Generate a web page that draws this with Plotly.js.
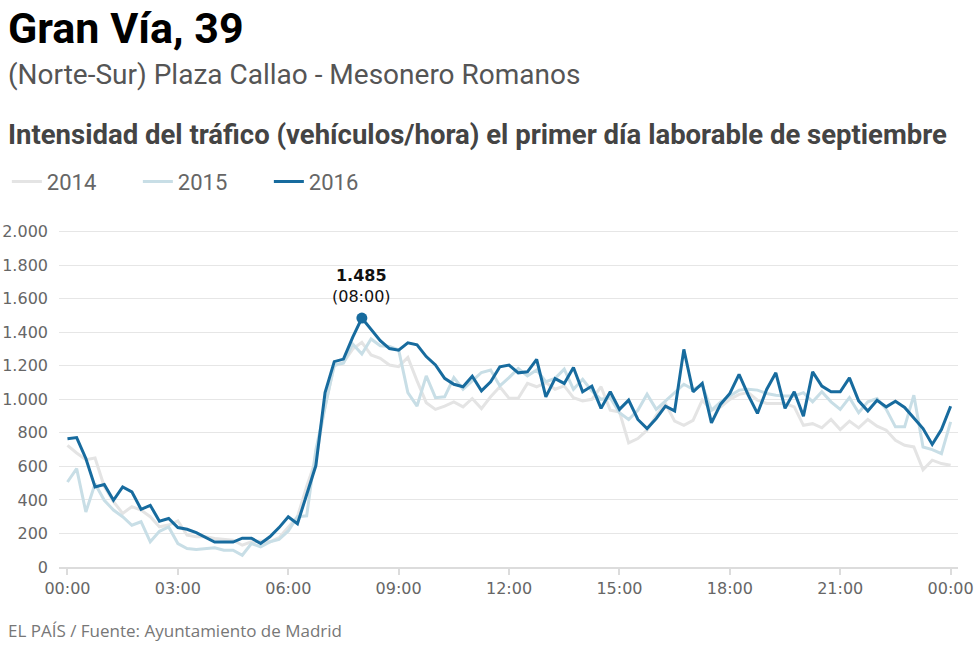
<!DOCTYPE html>
<html>
<head>
<meta charset="utf-8">
<script src="https://cdn.plot.ly/plotly-3.0.1.min.js"></script>
<style>
  html, body { margin: 0; padding: 0; background: #fff; }
  #chart { width: 980px; height: 647px; }
</style>
</head>
<body>
<div id="chart"></div>
<script>
// intensidad (vehículos/hora) cada 15 minutos, de 00:00 a 00:00
const v2014 = [726, 680, 640, 650, 480, 390, 320, 360, 340, 300, 240, 250, 275, 190, 180, 180,
  170, 165, 160, 130, 150, 155, 150, 175, 235, 300, 480, 640, 960, 1200, 1220, 1300,
  1340, 1265, 1245, 1205, 1195, 1250, 1110, 980, 940, 960, 985, 955, 1005, 945, 1015, 1075,
  1006, 1006, 1095, 1075, 1100, 1060, 1080, 1010, 990, 1000, 1075, 935, 925, 740, 766, 816,
  905, 975, 870, 845, 875, 995, 935, 955, 1000, 1030, 1040, 995, 975, 975, 975, 955,
  845, 855, 830, 880, 820, 870, 830, 880, 840, 816, 756, 726, 716, 580, 637, 617, 607];

const v2015 = [507, 587, 328, 497, 398, 340, 300, 249, 270, 150, 213, 239, 140, 110, 105, 110,
  115, 100, 100, 70, 140, 120, 150, 165, 215, 300, 305, 700, 950, 1205, 1216, 1330,
  1270, 1360, 1320, 1315, 1295, 1040, 960, 1140, 1010, 1015, 1130, 1060, 1110, 1160, 1175, 1080,
  1130, 1184, 1140, 1175, 1105, 1125, 1180, 1060, 1120, 1050, 1000, 1010, 920, 880, 935, 1030,
  940, 990, 1045, 1090, 1060, 1085, 935, 985, 1020, 1055, 1060, 1055, 1035, 1025, 1020, 1020,
  1040, 985, 1045, 985, 940, 1010, 920, 985, 1005, 940, 836, 836, 1025, 716, 700, 676, 866];

const v2016 = [765, 772, 647, 478, 492, 398, 478, 448, 344, 368, 273, 289, 235, 225, 205, 178,
  149, 149, 149, 172, 172, 140, 180, 235, 300, 258, 435, 605, 1040, 1225, 1240, 1370,
  1485, 1420, 1350, 1303, 1293, 1337, 1325, 1255, 1205, 1125, 1090, 1075, 1138, 1051, 1105, 1194,
  1204, 1158, 1164, 1238, 1015, 1124, 1095, 1190, 1045, 1079, 946, 1045, 940, 995, 880, 826,
  886, 959, 931, 1298, 1045, 1095, 860, 971, 1035, 1149, 1025, 916, 1059, 1158, 946, 1045,
  900, 1164, 1079, 1045, 1045, 1128, 991, 930, 995, 955, 989, 952, 886, 826, 731, 820, 959];

const horas = v2016.map((_, i) => i / 4);
const tickHoras = [0, 3, 6, 9, 12, 15, 18, 21, 24];
const tickTextos = ['00:00', '03:00', '06:00', '09:00', '12:00', '15:00', '18:00', '21:00', '00:00'];

const colores = { '2014': '#e4e4e4', '2015': '#c8dee6', '2016': '#176b9e' };

function serie(name, ys) {
    return {
        x: horas,
        y: ys,
        name: name,
        type: 'scatter',
        mode: 'lines',
        line: { color: colores[name], width: 3 },
        hoverinfo: 'skip'
    };
}

// pico de 2016
const maxVal = Math.max(...v2016);
const maxIdx = v2016.indexOf(maxVal);
const hh = String(Math.floor(horas[maxIdx])).padStart(2, '0');
const mm = String(Math.round((horas[maxIdx] % 1) * 60)).padStart(2, '0');
const maxTxt = String(maxVal).replace(/\B(?=(\d{3})+(?!\d))/g, '.');

const pico = {
    x: [horas[maxIdx]],
    y: [maxVal],
    type: 'scatter',
    mode: 'markers',
    marker: { color: colores['2016'], size: 11 },
    showlegend: false,
    hoverinfo: 'skip'
};

const fuente = 'Roboto, "Noto Sans", sans-serif';
const fuenteNum = '"DejaVu Sans", sans-serif';

const layout = {
    width: 980,
    height: 647,
    margin: { l: 59, r: 22, t: 230, b: 80 },
    paper_bgcolor: '#fff',
    plot_bgcolor: '#fff',
    separators: ',.',
    font: { family: fuente, color: '#555' },
    showlegend: true,
    legend: {
        orientation: 'h',
        xref: 'container', yref: 'container',
        x: 0.007, y: 0.719,
        xanchor: 'left', yanchor: 'middle',
        font: { size: 22, color: '#666', family: fuente },
        entrywidth: 86,
        entrywidthmode: 'pixels',
        traceorder: 'normal'
    },
    xaxis: {
        range: [-0.23, 24.2],
        tickvals: tickHoras,
        ticktext: tickTextos,
        showgrid: false,
        zeroline: false,
        showline: true,
        linecolor: '#dcdcdc',
        linewidth: 2,
        ticks: 'outside',
        ticklen: 6,
        tickwidth: 2,
        tickcolor: '#dcdcdc',
        tickfont: { size: 16, color: '#666', family: fuenteNum },
        fixedrange: true
    },
    yaxis: {
        range: [0, 2010],
        dtick: 200,
        tickformat: ',d',
        showgrid: true,
        gridcolor: '#e6e6e6',
        gridwidth: 1,
        zeroline: false,
        ticks: '',
        ticklabelstandoff: 10,
        tickfont: { size: 16, color: '#666', family: fuenteNum },
        fixedrange: true
    },
    annotations: [
        {
            xref: 'paper', yref: 'paper', x: -0.059, y: 1.6, xanchor: 'left', yanchor: 'middle',
            text: '<b>Gran Vía, 39</b>', showarrow: false,
            font: { family: fuente, size: 43, color: '#000' }
        },
        {
            xref: 'paper', yref: 'paper', x: -0.059, y: 1.462, xanchor: 'left', yanchor: 'middle',
            text: '(Norte-Sur) Plaza Callao - Mesonero Romanos', showarrow: false,
            font: { family: fuente, size: 28, color: '#555' }
        },
        {
            xref: 'paper', yref: 'paper', x: -0.059, y: 1.282, xanchor: 'left', yanchor: 'middle',
            text: '<b>Intensidad del tráfico (vehículos/hora) el primer día laborable de septiembre</b>',
            showarrow: false,
            font: { family: fuente, size: 27.5, color: '#444' }
        },
        {
            xref: 'x', yref: 'y', x: horas[maxIdx], y: maxVal, xanchor: 'center', yanchor: 'bottom',
            yshift: 10, showarrow: false, align: 'center',
            text: '<b>' + maxTxt + '</b><br>(' + hh + ':' + mm + ')',
            font: { family: fuenteNum, size: 16, color: '#111' }
        },
        {
            xref: 'paper', yref: 'paper', x: -0.059, y: -0.189, xanchor: 'left', yanchor: 'middle',
            text: 'EL PAÍS / Fuente: Ayuntamiento de Madrid', showarrow: false,
            font: { family: '"Open Sans", sans-serif', size: 17, color: '#777' }
        }
    ]
};

Plotly.newPlot('chart', [serie('2014', v2014), serie('2015', v2015), serie('2016', v2016), pico],
    layout, { displayModeBar: false, staticPlot: true });
</script>
</body>
</html>
